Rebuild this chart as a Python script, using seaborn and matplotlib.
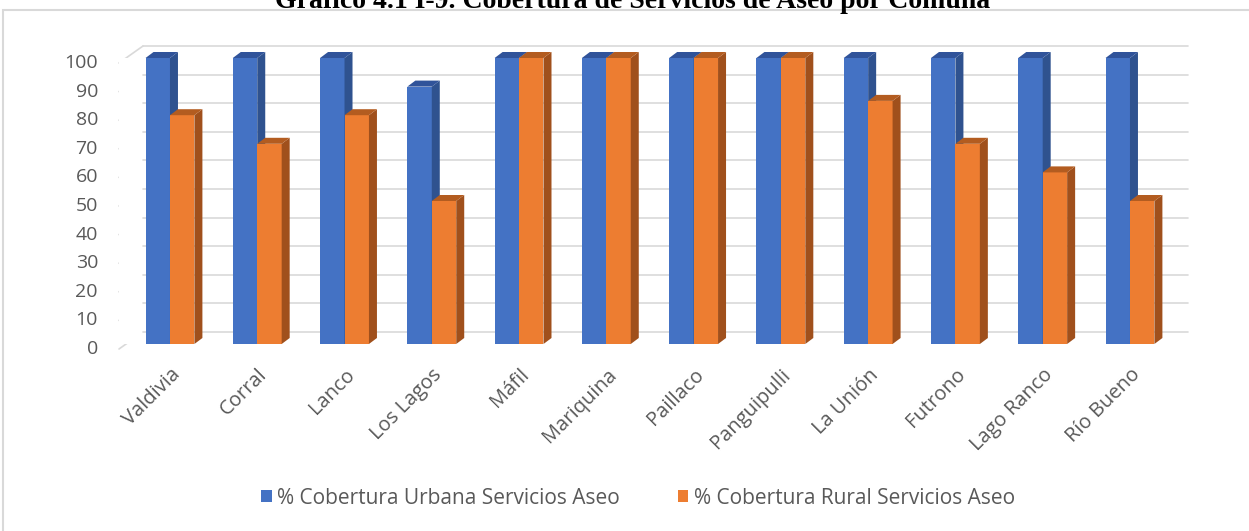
import numpy as np
import pandas as pd
import matplotlib
matplotlib.use("Agg")
import matplotlib.pyplot as plt
import matplotlib.transforms as mtransforms
from matplotlib.patches import Polygon, Patch, Rectangle
from matplotlib.lines import Line2D
import seaborn as sns

# data
comunas = ['Valdivia', 'Corral', 'Lanco', 'Los Lagos', 'Máfil', 'Mariquina',
           'Paillaco', 'Panguipulli', 'La Unión', 'Futrono', 'Lago Ranco', 'Río Bueno']
urbana = [100, 100, 100, 90, 100, 100, 100, 100, 100, 100, 100, 100]
rural = [80, 70, 80, 50, 100, 100, 100, 100, 85, 70, 60, 50]
series = ['% Cobertura Urbana Servicios Aseo', '% Cobertura Rural Servicios Aseo']
yticks = list(range(0, 101, 10))
title = 'Gráfico 4.1 I-9. Cobertura de Servicios de Aseo por Comuna'

front_cols = ['#4472C4', '#ED7D31']
side_cols = ['#2F528F', '#A0501C']
top_cols = ['#30539A', '#B35C20']
grid_col = '#D9D9D9'
text_col = '#595959'

df = pd.DataFrame({
    'comuna': comunas * 2,
    'valor': urbana + rural,
    'serie': [series[0]] * len(comunas) + [series[1]] * len(comunas),
})

sns.set_theme(style='white')
plt.rcParams['font.family'] = ['Open Sans', 'DejaVu Sans']

W, H = 1249, 531
fig = plt.figure(figsize=(W / 100, H / 100), dpi=100)
fig.patch.set_facecolor('white')
ax = fig.add_axes([119 / W, (H - 344) / H, (1164 - 119) / W, (344 - 58) / H])

sns.barplot(data=df, x='comuna', y='valor', hue='serie', hue_order=series,
            palette=front_cols, saturation=1, width=0.56, linewidth=0,
            legend=False, ax=ax)

ax.set_xlim(-0.584, 11.39)
ax.set_ylim(0, 100)
for s in ax.spines.values():
    s.set_visible(False)
ax.set_xlabel('')
ax.set_ylabel('')
ax.set_yticks(yticks)
ax.set_yticklabels([])
ax.tick_params(axis='y', length=0)
ax.tick_params(axis='x', length=0, pad=15, labelsize=14.5, labelcolor=text_col)
for lab in ax.get_xticklabels():
    lab.set_rotation(45)
    lab.set_ha('right')
    lab.set_rotation_mode('anchor')

# 3D-style back wall grid + slanted floor/left wall lines
BX, BY = 24, 12   # back wall offset (px)
FY = -5           # front plane offset (px)
ytr = ax.get_yaxis_transform()
back_tr = mtransforms.offset_copy(ytr, fig=fig, x=BX, y=BY, units='dots')
for v in yticks:
    ax.plot([0, 1], [v, v], transform=back_tr, color=grid_col, lw=1.2,
            zorder=0, clip_on=False)
    p = ytr.transform((0, v))
    fig.add_artist(Line2D([p[0], p[0] + BX], [p[1] + FY, p[1] + BY],
                          transform=mtransforms.IdentityTransform(),
                          color=grid_col, lw=1.2, zorder=0))
    ax.text(0, v, str(v), transform=mtransforms.offset_copy(ytr, fig=fig, x=-21, y=FY, units='dots'),
            ha='right', va='center', fontsize=14, color=text_col)

# side and top faces of the bars
DX, DY = 8, 6
inv = mtransforms.IdentityTransform()
for k, cont in enumerate(ax.containers):
    for bar in cont:
        bar.set_zorder(2 + k * 0.2)
        x0, y0 = bar.get_x(), bar.get_y()
        x1, y1 = x0 + bar.get_width(), y0 + bar.get_height()
        (a, b), (c, d) = ax.transData.transform([(x0, y0), (x1, y1)])
        side = Polygon([(c, b), (c + DX, b + DY), (c + DX, d + DY), (c, d)],
                       closed=True, transform=inv, facecolor=side_cols[k],
                       edgecolor='none', zorder=2.1 + k * 0.2, clip_on=False)
        top = Polygon([(a, d), (a + DX, d + DY), (c + DX, d + DY), (c, d)],
                      closed=True, transform=inv, facecolor=top_cols[k],
                      edgecolor='none', zorder=2.1 + k * 0.2, clip_on=False)
        ax.add_artist(side)
        ax.add_artist(top)

# legend
handles = [Patch(facecolor=c, edgecolor='none') for c in front_cols]
fig.legend(handles, series, loc='center', bbox_to_anchor=(638 / W, 1 - 498 / H),
           ncol=2, frameon=False, fontsize=15, labelcolor=text_col,
           handlelength=0.5, handleheight=0.5, handletextpad=0.25,
           columnspacing=2.8)

# outer chart frame and (cut-off) title
fig.add_artist(Rectangle((3 / W, -0.01), 1.0, 1 - 10.5 / H + 0.01,
                         transform=fig.transFigure, facecolor='none',
                         edgecolor=grid_col, lw=1.5, zorder=-1))
fig.text(633 / W, 1 - 8 / H, title, ha='center', va='baseline',
         fontsize=20, fontweight='bold', family=['Liberation Serif', 'DejaVu Serif'],
         color='black')

fig.savefig('out.png', dpi=100, facecolor='white')
